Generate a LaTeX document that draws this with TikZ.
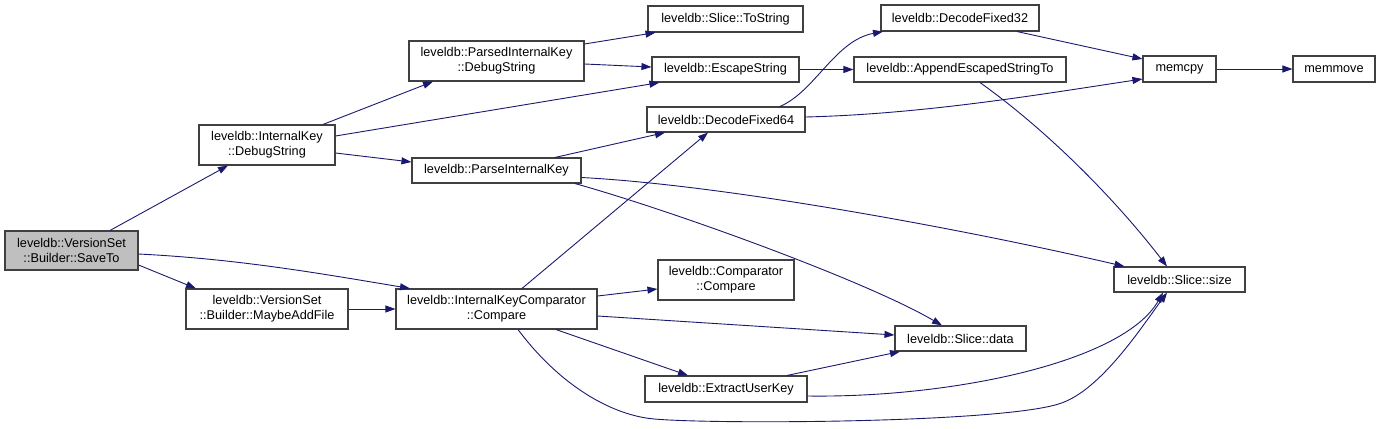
\documentclass[tikz,border=0pt]{standalone}
\usepackage{fontspec}
\setmainfont{Liberation Sans}
\usepackage{xcolor}
\usepackage{tikz}
\usetikzlibrary{arrows.meta}
\definecolor{DoxEdge}{HTML}{191970}
\definecolor{DoxFrame}{HTML}{404040}
\definecolor{DoxRoot}{HTML}{BFBFBF}

\begin{document}
\begin{tikzpicture}[x=1pt, y=-1pt,
  fn/.style={draw=DoxFrame, fill=white, line width=1.1pt, inner sep=0pt,
    align=center, font=\fontsize{12.7}{15}\selectfont},
  fnroot/.style={fn, fill=DoxRoot},
  call/.style={-{Triangle[length=10pt,width=7pt]}, DoxEdge, line width=0.9pt}]
  \useasboundingbox (0,0) rectangle (1380,428);
  % column 0 and 1
  \node[fnroot, minimum width=133pt, minimum height=39pt] (saveto) at (71.5,250.5) {leveldb::VersionSet\\::Builder::SaveTo};
  \node[fn, minimum width=162pt, minimum height=40pt] (maybeadd) at (267,309) {leveldb::VersionSet\\::Builder::MaybeAddFile};
  \node[fn, minimum width=136pt, minimum height=40pt] (ikdebug) at (267,145) {leveldb::InternalKey\\::DebugString};
  % column 2
  \node[fn, minimum width=175pt, minimum height=40pt] (pikdebug) at (496.5,61) {leveldb::ParsedInternalKey\\::DebugString};
  \node[fn, minimum width=169pt, minimum height=25pt] (parseik) at (496.5,170.5) {leveldb::ParseInternalKey};
  \node[fn, minimum width=201pt, minimum height=40pt] (ikcompare) at (496.5,309) {leveldb::InternalKeyComparator\\::Compare};
  % column 3
  \node[fn, minimum width=155pt, minimum height=26pt] (tostring) at (725.5,19) {leveldb::Slice::ToString};
  \node[fn, minimum width=147pt, minimum height=25pt] (escape) at (725.5,69.5) {leveldb::EscapeString};
  \node[fn, minimum width=158pt, minimum height=25pt] (decode64) at (726,119.5) {leveldb::DecodeFixed64};
  \node[fn, minimum width=136pt, minimum height=40pt] (comparator) at (726,280) {leveldb::Comparator\\::Compare};
  \node[fn, minimum width=162pt, minimum height=26pt] (extractuk) at (726,389) {leveldb::ExtractUserKey};
  % column 4
  \node[fn, minimum width=158pt, minimum height=26pt] (decode32) at (960,18) {leveldb::DecodeFixed32};
  \node[fn, minimum width=212pt, minimum height=25pt] (append) at (960,69.5) {leveldb::AppendEscapedStringTo};
  \node[fn, minimum width=131pt, minimum height=25pt] (slicedata) at (960.5,338.5) {leveldb::Slice::data};
  % column 5 and 6
  \node[fn, minimum width=73pt, minimum height=26pt] (memcpy) at (1179.5,69) {memcpy};
  \node[fn, minimum width=131pt, minimum height=25pt] (slicesize) at (1179.5,279.5) {leveldb::Slice::size};
  \node[fn, minimum width=82pt, minimum height=26pt] (memmove) at (1334,69) {memmove};

  % calls
  \draw[call] ([shift={(38.5,0)}]saveto.north) -- ([shift={(-39,0)}]ikdebug.south);
  \draw[call] ([shift={(0,14.5)}]saveto.east) -- ([shift={(-71,0)}]maybeadd.north);
  \draw[call] ([shift={(0,3.5)}]saveto.east) .. controls +(100,5) and +(-90,-15) .. ([shift={(-86.5,0)}]ikcompare.north);
  \draw[call] (maybeadd.east) -- (ikcompare.west);
  \draw[call] ([shift={(56,0)}]ikdebug.north) -- ([shift={(-63.5,0)}]pikdebug.south);
  \draw[call] ([shift={(0,-9)}]ikdebug.east) -- ([shift={(8,0)}]escape.south west);
  \draw[call] ([shift={(0,8)}]ikdebug.east) -- ([shift={(0,-8.5)}]parseik.west);
  \draw[call] ([shift={(0,-17)}]pikdebug.east) -- ([shift={(-70,0)}]tostring.south);
  \draw[call] ([shift={(0,3)}]pikdebug.east) -- ([shift={(0,-2.5)}]escape.west);
  \draw[call] (escape.east) -- (append.west);
  \draw[call] ([shift={(58.5,0)}]parseik.north) -- ([shift={(-61,0)}]decode64.south);
  \draw[call] ([shift={(0,7)}]parseik.east) .. controls +(150,8) and +(-150,-35) .. ([shift={(-55,0)}]slicesize.north);
  \draw[call] ([shift={(78.5,0)}]parseik.south) .. controls +(100,28) and +(-75,-44) .. ([shift={(-18.5,0)}]slicedata.north);
  \draw[call] ([shift={(54,0)}]decode64.north) .. controls +(35,-15) and +(-48,9) .. ([shift={(-77,0)}]decode32.south);
  \draw[call] ([shift={(0,-2.5)}]decode64.east) .. controls +(120,-3) and +(-100,15) .. ([shift={(0,10)}]memcpy.west);
  \draw[call] ([shift={(57,0)}]decode32.south) -- ([shift={(0,-10)}]memcpy.west);
  \draw[call] ([shift={(20,0)}]append.south) .. controls +(70,50) and +(-50,-65) .. ([shift={(-12.5,0)}]slicesize.north);
  \draw[call] (memcpy.east) -- (memmove.west);
  \draw[call] ([shift={(25.5,0)}]ikcompare.north) -- ([shift={(-18,0)}]decode64.south);
  \draw[call] ([shift={(0,-13)}]ikcompare.east) -- ([shift={(0,9)}]comparator.west);
  \draw[call] ([shift={(0,7)}]ikcompare.east) -- ([shift={(0,-3.5)}]slicedata.west);
  \draw[call] ([shift={(59.5,0)}]ikcompare.south) -- ([shift={(-38,0)}]extractuk.north);
  \draw[call] ([shift={(21.5,0)}]ikcompare.south) .. controls +(42,56) and +(-40,-5) .. ++(132,89)
    .. controls +(50,6) and +(-60,20) .. ++(410,-15)
    .. controls +(40,-13) and +(-27,37) .. ([shift={(-12.5,0)}]slicesize.south);
  \draw[call] ([shift={(61,0)}]extractuk.north) -- ([shift={(-60.5,0)}]slicedata.south);
  \draw[call] ([shift={(0,7)}]extractuk.east) .. controls +(143,2) and +(-40,70) .. ([shift={(-16.5,0)}]slicesize.south);
\end{tikzpicture}
\end{document}
